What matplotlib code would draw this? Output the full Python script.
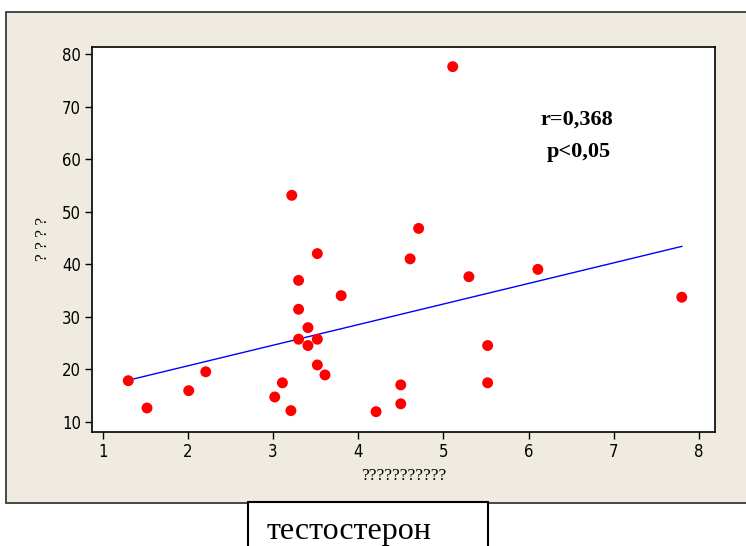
import matplotlib
matplotlib.use("Agg")
import matplotlib.pyplot as plt
import numpy as np
from matplotlib.patches import Rectangle

# Data
x_vals = [1.30, 1.52, 2.01, 2.21, 3.02, 3.11, 3.21, 3.22, 3.30, 3.30, 3.30, 3.41, 3.41,
          3.52, 3.52, 3.52, 3.61, 3.80, 4.21, 4.50, 4.50, 4.61, 4.71, 5.11, 5.30, 5.52,
          5.52, 6.11, 7.80]
y_vals = [17.8, 12.6, 15.9, 19.5, 14.7, 17.4, 12.1, 53.1, 36.9, 31.4, 25.7, 27.9, 24.5,
          42.0, 25.7, 20.8, 18.9, 34.0, 11.9, 17.0, 13.4, 41.0, 46.8, 77.6, 37.6, 24.5,
          17.4, 39.0, 33.7]
x_ticks = [1, 2, 3, 4, 5, 6, 7, 8]
y_ticks = [10, 20, 30, 40, 50, 60, 70, 80]
annot_lines = ["r=0,368", "p<0,05"]
x_label = "???????????"
y_label = "? ? ? ?"
caption = "тестостерон"

W, H = 746, 546
fig = plt.figure(figsize=(W / 100, H / 100), dpi=100)
fig.patch.set_facecolor("white")

def fx(px):
    return px / W

def fy(py):
    return 1 - py / H

# beige outer panel
panel = Rectangle((fx(6), fy(503)), fx(760) - fx(6), fy(12) - fy(503),
                  transform=fig.transFigure, facecolor="#EFEBE1",
                  edgecolor="#3a3a3a", linewidth=1.3, zorder=-2)
fig.patches.append(panel)
# caption box
box = Rectangle((fx(248), fy(560)), fx(488) - fx(248), fy(502) - fy(560),
                transform=fig.transFigure, facecolor="white",
                edgecolor="black", linewidth=1.5, zorder=-1)
fig.patches.append(box)
fig.text(fx(267), fy(539.5), caption, family=["Liberation Serif", "DejaVu Serif"],
         fontsize=23, ha="left", va="baseline", color="black")

ax = fig.add_axes([fx(92), fy(432), fx(715) - fx(92), fy(46.7) - fy(432)])
ax.set_zorder(2)
ax.set_facecolor("white")
ax.scatter(x_vals, y_vals, s=62, color="#FF0000", edgecolors="none", zorder=3)

coef = np.polyfit(x_vals, y_vals, 1)
xl = np.array([min(x_vals), max(x_vals)])
ax.plot(xl, np.polyval(coef, xl), color="#0000FF", linewidth=1.0, zorder=2)

ax.set_xlim(0.874, 8.19)
ax.set_ylim(8.03, 81.4)
ax.set_xticks(x_ticks)
ax.set_yticks(y_ticks)
for lab in ax.get_xticklabels() + ax.get_yticklabels():
    lab.set_family(["DejaVu Sans"])
    lab.set_fontstretch("condensed")
    lab.set_fontsize(12)
ax.tick_params(direction="out", length=5, width=1, color="black", pad=3)
for s in ax.spines.values():
    s.set_linewidth(1.2)
    s.set_color("black")

ax.set_xlabel(x_label, family=["Liberation Serif", "DejaVu Serif"], fontsize=12.5, labelpad=5)
ax.set_ylabel(y_label, family=["Liberation Serif", "DejaVu Serif"], fontsize=12.5, labelpad=8)

ax.text(0.778, 0.81, annot_lines[0], transform=ax.transAxes, family=["Liberation Serif"],
        fontweight="bold", fontsize=16, ha="center", va="center")
ax.text(0.782, 0.727, annot_lines[1], transform=ax.transAxes, family=["Liberation Serif"],
        fontweight="bold", fontsize=16, ha="center", va="center")

fig.savefig("out.png", dpi=100)
